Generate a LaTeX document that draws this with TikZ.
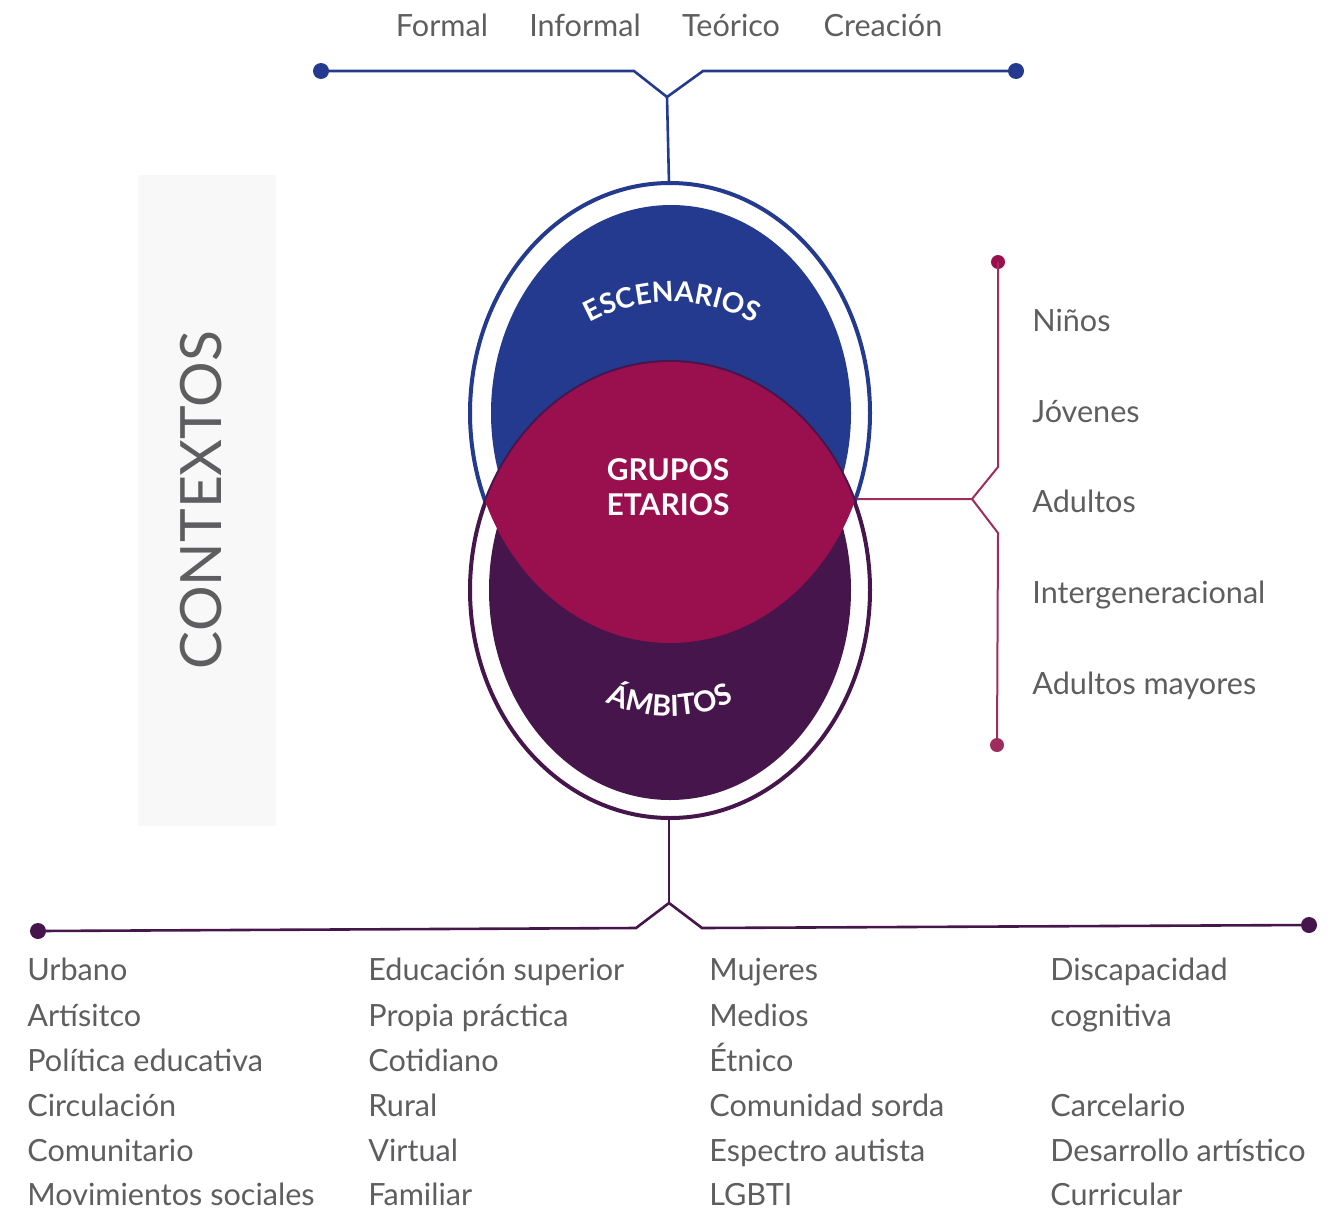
\documentclass[tikz,border=0pt]{standalone}
\usepackage{fontspec}
\setmainfont{Lato}
\usetikzlibrary{decorations.text}
\definecolor{cblue}{HTML}{243A8E}
\definecolor{cmag}{HTML}{9A0F4E}
\definecolor{cpur}{HTML}{46154B}
\definecolor{cgray}{HTML}{5E5E60}
\definecolor{cline}{HTML}{9E2C5C}
\definecolor{cpanel}{HTML}{F8F8F8}
\begin{document}
\begin{tikzpicture}[x=0.5pt,y=-0.5pt,
  lbl/.style={font=\fontsize{15.3}{18}\selectfont, text=cgray, inner sep=0pt},
  lft/.style={lbl, anchor=base west},
  ctr/.style={lbl, anchor=base},
  dotb/.style={circle, fill=cblue, minimum size=8pt, inner sep=0pt},
  dotm/.style={circle, fill=cline, minimum size=7pt, inner sep=0pt},
  dotp/.style={circle, fill=cpur, minimum size=8pt, inner sep=0pt},
  blueline/.style={draw=cblue, line width=1.3pt},
  magline/.style={draw=cline, line width=1pt},
  purline/.style={draw=cpur, line width=1.3pt},
  ring/.style={line width=2pt}]
\useasboundingbox (0,0) rectangle (1332,1210);

% panel
\node[fill=cpanel, minimum width=69pt, minimum height=325.5pt, inner sep=0pt] (panel) at (207,500.5) {};
\node[rotate=90, text=cgray, font=\fontsize{28.5}{30}\selectfont, inner sep=0pt] (contextos) at (201,500) {CONTEXTOS};

% top group
\draw[ring, draw=cblue, fill=white] (670,413) ellipse [x radius=200, y radius=230];
\fill[cblue] (671,413) ellipse [x radius=180, y radius=208];
% bottom group
\draw[ring, draw=cpur, fill=white] (670,590) ellipse [x radius=200, y radius=228];
\fill[cpur] (670,590) ellipse [x radius=181, y radius=210];
% lens
\begin{scope}
  \clip (670,413) ellipse [x radius=200, y radius=230];
  \fill[cmag] (670,590) ellipse [x radius=200, y radius=228];
\end{scope}

% curved labels
\path[decorate, decoration={text along path, text align=center,
   text={|\bfseries\fontsize{14}{16}\selectfont\color{white}|ESCENARIOS}}]
   (672,472) ++(-135:170) arc[start angle=-135, end angle=-45, radius=170];
\path[decorate, decoration={text along path, text align=center,
   text={|\bfseries\fontsize{14.5}{16}\selectfont\color{white}|ÁMBITOS}}]
   (670,566) ++(135:150) arc[start angle=135, end angle=45, radius=150];

\node[text=white, font=\bfseries\fontsize{15}{17.5}\selectfont, align=center, inner sep=0pt] (grupos) at (668,487) {GRUPOS\\ETARIOS};

% top connector
\coordinate (topE) at (669,183);
\coordinate (tj) at (667,97);
\coordinate (tl) at (634,71);
\coordinate (tr) at (703,71);
\node[dotb] (dTL) at (321,71) {};
\node[dotb] (dTR) at (1016,71) {};
\draw[blueline] (topE) -- (tj);
\draw[blueline] (dTL.center) -- (tl) -- (tj) -- (tr) -- (dTR.center);

\node[ctr] (formal) at (442,36) {Formal};
\node[ctr] (informal) at (585,36) {Informal};
\node[ctr] (teorico) at (731,36) {Teórico};
\node[ctr] (creacion) at (883,36) {Creación};

% right connector
\coordinate (lensR) at (857,499);
\coordinate (rj) at (972,499);
\coordinate (ru) at (998,467);
\coordinate (rd) at (998,533);
\node[dotm, fill=cmag] (dRT) at (998,262) {};
\node[dotm] (dRB) at (997,745) {};
\draw[magline] (lensR) -- (rj) -- (ru) -- (dRT.center);
\draw[magline] (rj) -- (rd) -- (dRB.center);

\node[lft] (ninos) at (1032,331) {Niños};
\node[lft] (jovenes) at (1032,422) {Jóvenes};
\node[lft] (adultos) at (1032,512) {Adultos};
\node[lft] (inter) at (1032,603) {Intergeneracional};
\node[lft] (mayores) at (1032,694) {Adultos mayores};

% bottom connector
\coordinate (botE) at (669,818);
\coordinate (bj) at (669,903);
\coordinate (bl) at (636,928);
\coordinate (br) at (702,928);
\node[dotp] (dBL) at (38,931) {};
\node[dotp] (dBR) at (1309,925) {};
\draw[purline] (botE) -- (bj);
\draw[purline] (dBL.center) -- (bl) -- (bj) -- (br) -- (dBR.center);

% bottom lists
\node[lft] (a1) at (27,980) {Urbano};
\node[lft] (a2) at (27,1026) {Artísitco};
\node[lft] (a3) at (27,1071) {Política educativa};
\node[lft] (a4) at (27,1116) {Circulación};
\node[lft] (a5) at (27,1161) {Comunitario};
\node[lft] (a6) at (27,1205) {Movimientos sociales};

\node[lft] (b1) at (368,980) {Educación superior};
\node[lft] (b2) at (368,1026) {Propia práctica};
\node[lft] (b3) at (368,1071) {Cotidiano};
\node[lft] (b4) at (368,1116) {Rural};
\node[lft] (b5) at (368,1161) {Virtual};
\node[lft] (b6) at (368,1205) {Familiar};

\node[lft] (c1) at (709,980) {Mujeres};
\node[lft] (c2) at (709,1026) {Medios};
\node[lft] (c3) at (709,1071) {Étnico};
\node[lft] (c4) at (709,1116) {Comunidad sorda};
\node[lft] (c5) at (709,1161) {Espectro autista};
\node[lft] (c6) at (709,1205) {LGBTI};

\node[lft] (d1) at (1050,980) {Discapacidad};
\node[lft] (d2) at (1050,1026) {cognitiva};
\node[lft] (d4) at (1050,1116) {Carcelario};
\node[lft] (d5) at (1050,1161) {Desarrollo artístico};
\node[lft] (d6) at (1050,1205) {Curricular};
\end{tikzpicture}
\end{document}
